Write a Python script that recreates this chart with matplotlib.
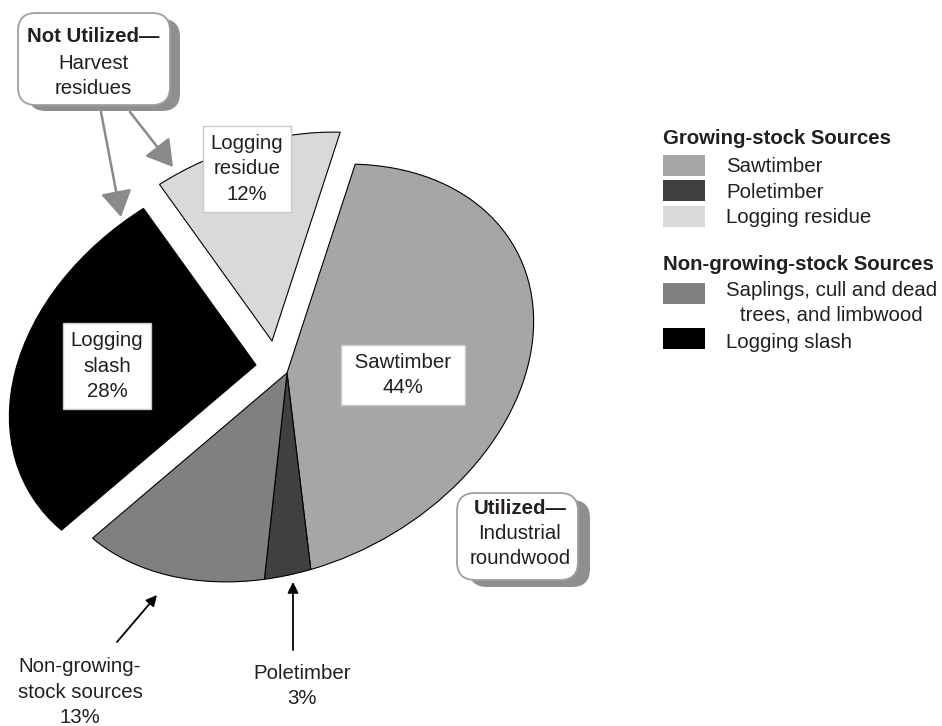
import matplotlib
matplotlib.use("Agg")
import matplotlib.pyplot as plt
from matplotlib.patches import FancyBboxPatch, Rectangle
from matplotlib.transforms import Affine2D

plt.rcParams['font.family'] = ['Liberation Sans', 'DejaVu Sans']

# slices, clockwise from the top
slices = ["Sawtimber", "Poletimber", "Non-growing-stock sources", "Logging slash", "Logging residue"]
shares = [44, 3, 13, 28, 12]
greys = ["#a6a6a6", "#404040", "#808080", "#000000", "#d9d9d9"]

growing_stock = ["Sawtimber", "Poletimber", "Logging residue"]
non_growing_stock = ["Non-growing-stock sources", "Logging slash"]
legend_text = {
    "Non-growing-stock sources": "Saplings, cull and dead\ntrees, and limbwood",
}

W, H = 942, 726
INK = "#231f20"
FS = 14.7
LS = 1.42

# pull-out of the two "not utilized" wedges, in px
shift = {"Logging slash": (-31, 8), "Logging residue": (-15, 32)}

fig = plt.figure(figsize=(W / 100, H / 100), dpi=100)
ax = fig.add_axes([0, 0, 1, 1])

wedges, _ = ax.pie(shares, colors=greys, startangle=80.5, counterclock=False,
                   wedgeprops=dict(edgecolor="black", linewidth=0.8))
ax.set_aspect("auto")
ax.set_xlim(0, W)
ax.set_ylim(0, H)
ax.axis("off")

# the pie is drawn as a tilted ellipse
ellipse = Affine2D().rotate_deg(-28).scale(260, 192).rotate_deg(28)
for w, name in zip(wedges, slices):
    dx, dy = shift.get(name, (0, 0))
    w.set_transform(ellipse + Affine2D().translate(287 + dx, 353 + dy) + ax.transData)


def boxed(x, y, s):
    ax.text(x, y, s, ha="center", va="center", fontsize=FS, color=INK, linespacing=LS,
            bbox=dict(boxstyle="square,pad=0.4", fc="white", ec="#c8c8c8", lw=1), zorder=5)


boxed(247, 557, f"Logging\nresidue\n{shares[4]}%")
boxed(107, 360, f"Logging\nslash\n{shares[3]}%")
boxed(403, 351, f" Sawtimber \n{shares[0]}%")

ax.text(80, 34, f"Non-growing-\nstock sources\n{shares[2]}%", ha="center", va="center",
        fontsize=FS, color=INK, linespacing=LS)
ax.text(302, 40, f"Poletimber\n{shares[1]}%", ha="center", va="center",
        fontsize=FS, color=INK, linespacing=LS)

black_arrow = dict(arrowstyle="-|>", color="black", lw=1.3, mutation_scale=16, shrinkA=0, shrinkB=0)
ax.annotate("", xy=(157, 131), xytext=(117, 84), arrowprops=black_arrow)
ax.annotate("", xy=(293, 144), xytext=(293, 76), arrowprops=black_arrow)

grey_arrow = dict(arrowstyle="-|>,head_length=0.5,head_width=0.3", color="#8a8a8a", lw=1.8,
                  mutation_scale=32, shrinkA=0, shrinkB=0)
ax.annotate("", xy=(121, 509), xytext=(101, 614), arrowprops=grey_arrow)
ax.annotate("", xy=(173, 559), xytext=(130, 614), arrowprops=grey_arrow)


def callout(x0, y0, w, h, off, bold, rest, cx, by, ry):
    ax.add_patch(FancyBboxPatch((x0 + off[0], y0 + off[1]), w, h,
                                boxstyle="round,pad=0,rounding_size=18",
                                fc="#8f8f8f", ec="none", zorder=6))
    ax.add_patch(FancyBboxPatch((x0, y0), w, h, boxstyle="round,pad=0,rounding_size=18",
                                fc="white", ec="#a0a0a0", lw=1.3, zorder=7))
    ax.text(cx, by, bold, ha="center", va="center", fontsize=FS, fontweight="bold",
            color=INK, zorder=8)
    ax.text(cx, ry, rest, ha="center", va="center", fontsize=FS, color=INK,
            linespacing=LS, zorder=8)


callout(18, 621, 152, 92, (10, -6), "Not Utilized\u2014", "Harvest\nresidues", 93, 689, 650)
callout(457, 146, 121, 87, (12, -7), "Utilized\u2014", "Industrial\nroundwood", 520, 218, 180)

# legend
colour_of = dict(zip(slices, greys))
ax.text(663, 588, "Growing-stock Sources", ha="left", va="center", fontsize=FS,
        fontweight="bold", color=INK)
for i, name in enumerate(growing_stock):
    y = 561 - i * 25.5
    ax.add_patch(Rectangle((663, y - 10.5), 42, 21, fc=colour_of[name], ec="none"))
    ax.text(726, y - 1.5, legend_text.get(name, name), ha="left", va="center", fontsize=FS, color=INK)

ax.text(663, 461, "Non-growing-stock Sources", ha="left", va="center", fontsize=FS,
        fontweight="bold", color=INK)
for y, name in zip([433, 388], non_growing_stock):
    ax.add_patch(Rectangle((663, y - 10.5), 42, 21, fc=colour_of[name], ec="none"))
    label = legend_text.get(name, name)
    if "\n" in label:
        ax.text(726, y + 12, label, ha="left", va="top", fontsize=FS, color=INK,
                multialignment="center", linespacing=1.38)
    else:
        ax.text(726, y - 4, label, ha="left", va="center", fontsize=FS, color=INK)

fig.savefig("out.png", dpi=100, facecolor="white")
